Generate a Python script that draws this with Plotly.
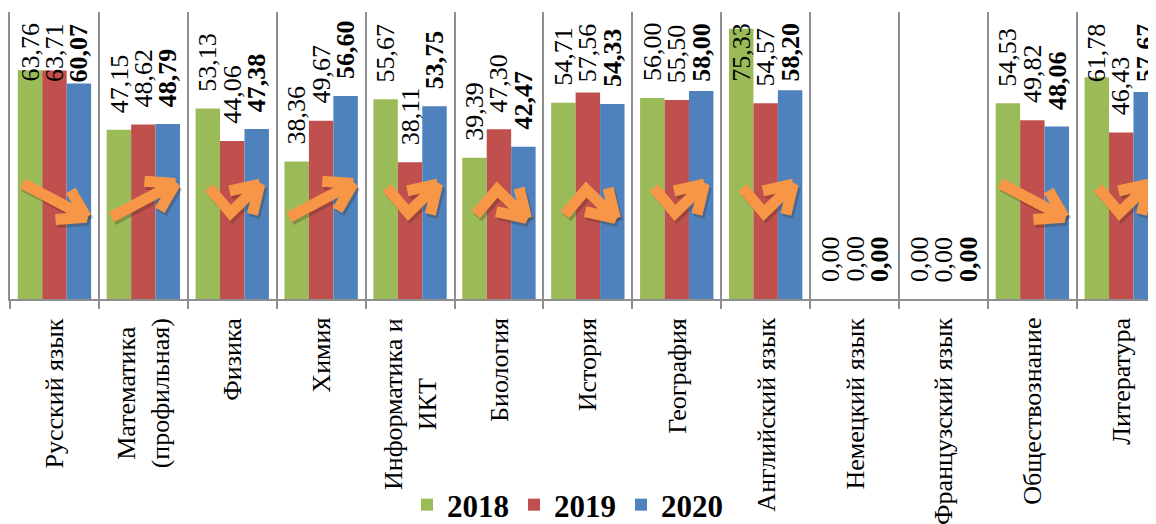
import math

import plotly.graph_objects as go

subjects = ["Русский язык", "Математика<br>(профильная)", "Физика", "Химия",
            "Информатика и<br>ИКТ", "Биология", "История", "География",
            "Английский язык", "Немецкий язык", "Французский язык",
            "Обществознание", "Литература"]
years = ["2018", "2019", "2020"]
score_2018 = [63.76, 47.15, 53.13, 38.36, 55.67, 39.39, 54.71, 56.00, 75.33, 0.00, 0.00, 54.53, 61.78]
score_2019 = [63.71, 48.62, 44.06, 49.67, 38.11, 47.30, 57.56, 55.50, 54.57, 0.00, 0.00, 49.82, 46.43]
score_2020 = [60.07, 48.79, 47.38, 56.60, 53.75, 42.47, 54.33, 58.00, 58.20, 0.00, 0.00, 48.06, 57.67]

COLORS = ["#9BBB59", "#C0504D", "#4F81BD"]
ARROW = "#F79646"
GRID = "#8E8E8E"
FONT = "Liberation Serif, Times New Roman, serif"

# layout geometry (px); the page body adds an 8px margin around the figure
W, H = 1156, 524
ML, MR, MT, MB = 2, 8, 4, 233
CAT_PX = 88.9
Y_MAX = 80
PLOT_W = W - ML - MR
PLOT_H = H - MT - MB
PX_Y = PLOT_H / Y_MAX
X_RANGE = [-0.5, -0.5 + PLOT_W / CAT_PX]
BAR_PX = CAT_PX * (1 - 0.175) / 3
LABEL_GAP, LABEL_LEN = 15, 58

series = [score_2018, score_2019, score_2020]
xs = list(range(len(subjects)))

fig = go.Figure()
for year, vals, col in zip(years, series, COLORS):
    fig.add_trace(go.Bar(x=xs, y=vals, name=year, marker=dict(color=col, line=dict(width=0)),
                         hoverinfo="skip"))


def trend_arrow(i, a, b, c):
    """Orange zigzag arrow that follows the 2018 -> 2019 -> 2020 trend."""
    d1 = 1 if b > a else -1
    d2 = 1 if c > b else -1
    if d1 == d2:
        px = [i - 0.36, i + 0.36]
        py = [27.5 - 4.7 * d1, 27.5 + 4.7 * d1]
    else:
        y0 = 31 if d1 < 0 else 23.5
        px = [i - 0.26, i - 0.02, i + 0.31]
        py = [y0, y0 + 7 * d1, y0 + 7 * d1 + 8 * d2]
    dx = (px[-1] - px[-2]) * CAT_PX
    dy = (py[-1] - py[-2]) * PX_Y
    n = math.hypot(dx, dy)
    ux, uy = -dx / n, -dy / n
    barbs = []
    for ang in (math.radians(32), -math.radians(32)):
        rx = ux * math.cos(ang) - uy * math.sin(ang)
        ry = ux * math.sin(ang) + uy * math.cos(ang)
        barbs.append((px[-1] + rx * 31 / CAT_PX, py[-1] + ry * 31 / PX_Y))
    ax = px + [barbs[0][0], None, px[-1], barbs[1][0]]
    ay = py + [barbs[0][1], None, py[-1], barbs[1][1]]
    return ax, ay


for i in xs:
    a, b, c = score_2018[i], score_2019[i], score_2020[i]
    if a == b == c == 0:
        continue
    ax, ay = trend_arrow(i, a, b, c)
    # soft drop shadow, then the arrow itself
    sx = [None if v is None else v + 2 / CAT_PX for v in ax]
    sy = [None if v is None else v - 3 / PX_Y for v in ay]
    fig.add_trace(go.Scatter(x=sx, y=sy, mode="lines", showlegend=False, hoverinfo="skip",
                             line=dict(color="rgba(60,40,20,0.28)", width=11)))
    fig.add_trace(go.Scatter(x=ax, y=ay, mode="lines", showlegend=False, hoverinfo="skip",
                             line=dict(color=ARROW, width=11)))

# value labels, pushed down when they would leave the chart
for k, vals in enumerate(series):
    for i, v in enumerate(vals):
        txt = f"{v:.2f}".replace(".", ",")
        if k == 2:
            txt = f"<b>{txt}</b>"
        top_px = (Y_MAX - v) * PX_Y - LABEL_GAP - LABEL_LEN
        common = dict(x=i, xref="x", xshift=(k - 1) * BAR_PX, text=txt, showarrow=False,
                      textangle=-90, font=dict(family=FONT, size=26, color="black"))
        if top_px < 10:
            fig.add_annotation(y=1, yref="paper", yanchor="top", yshift=-9, **common)
        else:
            fig.add_annotation(y=v, yref="y", yanchor="bottom", yshift=LABEL_GAP, **common)

# category labels
for i, name in enumerate(subjects):
    fig.add_annotation(x=i, y=0, xref="x", yref="y", yanchor="top", yshift=-17,
                       text=name, showarrow=False, textangle=-90, align="center",
                       font=dict(family=FONT, size=26, color="black"))

fig.update_layout(
    width=W, height=H,
    margin=dict(l=ML, r=MR, t=MT, b=MB, autoexpand=False),
    paper_bgcolor="white", plot_bgcolor="white",
    barmode="group", bargap=0.175, bargroupgap=0,
    font=dict(family=FONT, color="black"),
    showlegend=True,
    legend=dict(orientation="h", xref="container", x=0.484, xanchor="center",
                yref="container", y=-0.005, yanchor="bottom",
                font=dict(family=FONT, size=31, color="black", weight="bold"),
                itemwidth=30, tracegroupgap=0),
)
fig.update_xaxes(range=X_RANGE, tickmode="array",
                 tickvals=[i - 0.5 for i in range(len(subjects) + 1)],
                 showticklabels=False, ticks="outside", ticklen=8, tickwidth=2, tickcolor=GRID,
                 showgrid=True, gridcolor=GRID, gridwidth=2, zeroline=False,
                 showline=True, linecolor=GRID, linewidth=2)
fig.update_yaxes(range=[0, Y_MAX], showgrid=False, zeroline=False, showticklabels=False,
                 showline=True, linecolor=GRID, linewidth=2)

fig.write_html("out.html")
